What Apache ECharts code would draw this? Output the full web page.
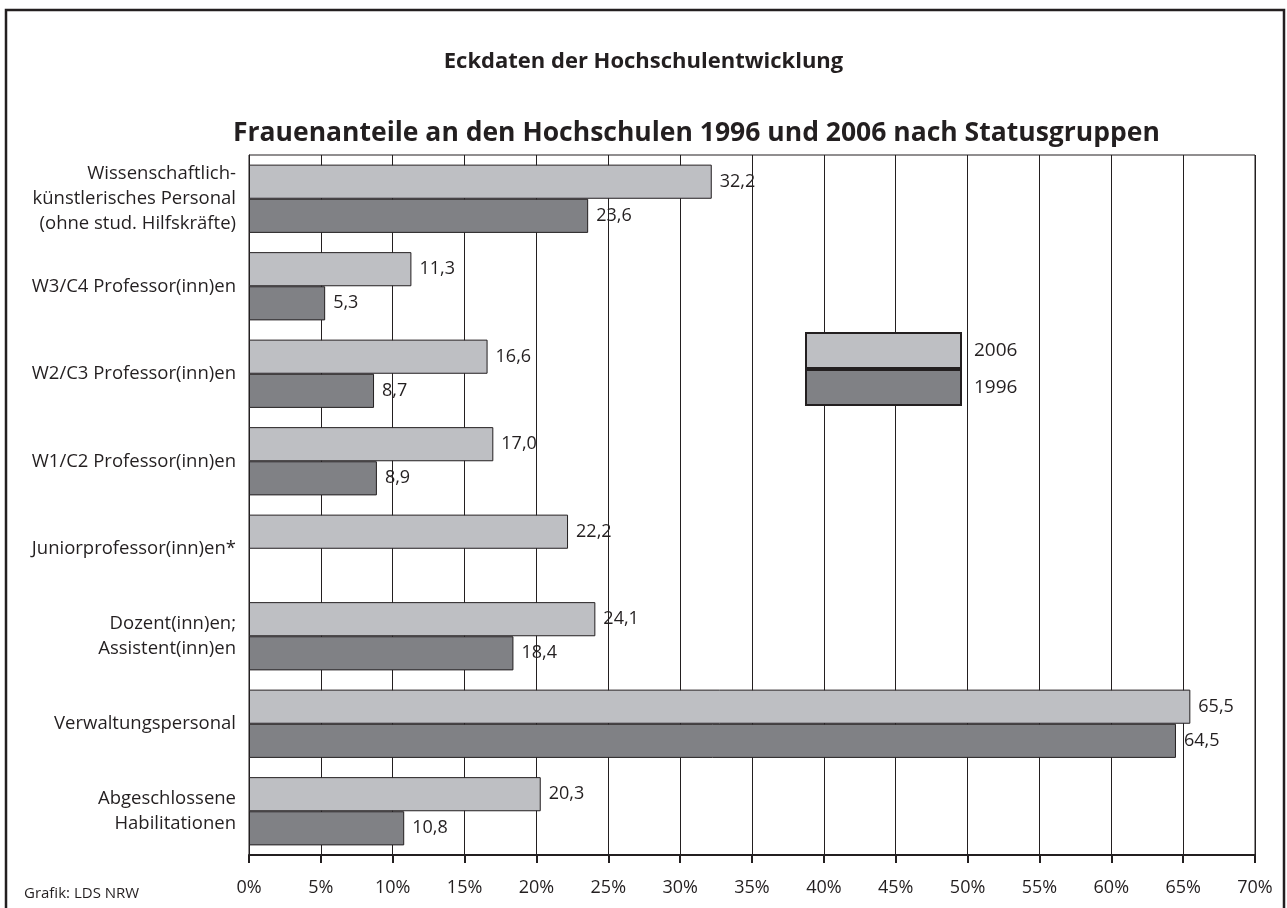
<!DOCTYPE html>
<html>
<head>
<meta charset="utf-8">
<title>Frauenanteile an den Hochschulen</title>
<script src="https://cdn.jsdelivr.net/npm/echarts@6/dist/echarts.min.js"></script>
<style>
  html, body { margin: 0; padding: 0; background: #fff; }
  #chart { width: 1287px; height: 908px; }
</style>
</head>
<body>
<div id="chart"></div>
<script>
// Statusgruppen (von oben nach unten)
const categories = [
  'Wissenschaftlich-\nkünstlerisches Personal\n(ohne stud. Hilfskräfte)',
  'W3/C4 Professor(inn)en',
  'W2/C3 Professor(inn)en',
  'W1/C2 Professor(inn)en',
  'Juniorprofessor(inn)en*',
  'Dozent(inn)en;\nAssistent(inn)en',
  'Verwaltungspersonal',
  'Abgeschlossene\nHabilitationen'
]
const values2006 = [32.2, 11.3, 16.6, 17.0, 22.2, 24.1, 65.5, 20.3]
const values1996 = [23.6, 5.3, 8.7, 8.9, null, 18.4, 64.5, 10.8]
const xTicks = [0, 5, 10, 15, 20, 25, 30, 35, 40, 45, 50, 55, 60, 65, 70]

const FONT = '"Open Sans", "Noto Sans", sans-serif'
const LIGHT = '#bebfc3'
const DARK = '#808185'
const INK = '#231f20'

const chart = echarts.init(document.getElementById('chart'))

function fmt(p) {
  return p.value == null ? '' : p.value.toFixed(1).replace('.', ',')
}

function barSeries(name, values, color) {
  return {
    name: name,
    type: 'bar',
    data: values,
    barGap: '0%',
    barCategoryGap: '22%',
    itemStyle: { color: color, borderColor: INK, borderWidth: 1 },
    label: {
      show: true,
      position: 'right',
      distance: 8,
      formatter: fmt,
      fontFamily: FONT,
      fontSize: 18,
      color: INK
    },
    emphasis: { disabled: true },
    silent: true
  }
}

const option = {
  animation: false,
  backgroundColor: '#fff',
  title: [
    {
      text: 'Eckdaten der Hochschulentwicklung',
      left: 'center',
      top: 46,
      textStyle: { fontFamily: FONT, fontSize: 22, fontWeight: 'bold', color: INK }
    },
    {
      text: 'Frauenanteile an den Hochschulen 1996 und 2006 nach Statusgruppen',
      left: 228,
      top: 115,
      textStyle: { fontFamily: FONT, fontSize: 26.5, fontWeight: 'bold', color: INK }
    }
  ],
  legend: {
    orient: 'vertical',
    left: 805,
    top: 332,
    padding: 0,
    icon: 'rect',
    itemWidth: 155,
    itemHeight: 35,
    itemGap: 0,
    selectedMode: false,
    data: ['2006', '1996'],
    textStyle: { fontFamily: FONT, fontSize: 19, color: INK, padding: [0, 0, 0, 8] }
  },
  grid: {
    left: 249,
    right: 32,
    top: 155,
    bottom: 53,
    show: true,
    borderColor: INK,
    borderWidth: 1
  },
  xAxis: {
    type: 'value',
    min: 0,
    max: 70,
    interval: 5,
    axisLine: { show: true, lineStyle: { color: INK, width: 2 } },
    axisTick: { show: true, length: 8, lineStyle: { color: INK, width: 2 } },
    axisLabel: {
      margin: 24,
      fontFamily: FONT,
      fontSize: 18,
      color: INK,
      formatter: v => (xTicks.includes(v) ? v + '%' : '')
    },
    splitLine: { show: true, lineStyle: { color: INK, width: 1 } }
  },
  yAxis: {
    type: 'category',
    inverse: true,
    data: categories,
    axisLine: { show: true, lineStyle: { color: INK, width: 1 } },
    axisTick: { show: false },
    axisLabel: {
      margin: 13,
      fontFamily: FONT,
      fontSize: 18.5,
      lineHeight: 25,
      color: INK,
      align: 'right'
    }
  },
  series: [
    barSeries('2006', values2006, LIGHT),
    barSeries('1996', values1996, DARK)
  ],
  graphic: [
    {
      type: 'rect',
      shape: { x: 6, y: 10, width: 1278, height: 930 },
      style: { fill: 'none', stroke: INK, lineWidth: 2.5 },
      silent: true
    },
    {
      type: 'text',
      left: 24,
      top: 886,
      style: { text: 'Grafik: LDS NRW', font: '15px "Open Sans", sans-serif', fill: INK }
    }
  ]
}

chart.setOption(option)
</script>
</body>
</html>
